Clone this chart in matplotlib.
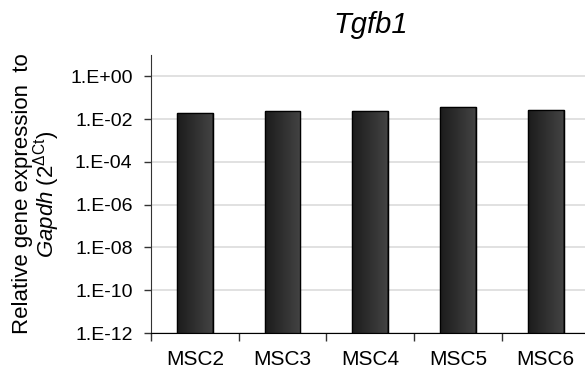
import numpy as np
import matplotlib
matplotlib.use("Agg")
from matplotlib import pyplot as plt
from matplotlib.colors import LinearSegmentedColormap

plt.rcParams["font.family"] = ["Liberation Sans", "DejaVu Sans"]
plt.rcParams["mathtext.fontset"] = "custom"
plt.rcParams["mathtext.rm"] = "Liberation Sans"
plt.rcParams["mathtext.it"] = "Liberation Sans:italic"

# data
samples = ["MSC2", "MSC3", "MSC4", "MSC5", "MSC6"]
expression = [0.020, 0.024, 0.024, 0.036, 0.028]
ytick_vals = [1e0, 1e-2, 1e-4, 1e-6, 1e-8, 1e-10, 1e-12]
ytick_labels = ["1.E+00", "1.E-02", "1.E-04", "1.E-06", "1.E-08", "1.E-10", "1.E-12"]

fig = plt.figure(figsize=(5.85, 3.71), dpi=100)
ax = fig.add_axes([0.258, 0.1024, 0.7496, 0.7493])

ax.set_yscale("log")
ax.set_ylim(1e-12, 1e1)
ax.set_xlim(0, len(samples))

centers = np.arange(len(samples)) + 0.5
bars = ax.bar(centers, expression, width=0.41, bottom=1e-12,
              color="#2e2e2e", edgecolor="black", linewidth=0.9, zorder=3)

# horizontal shading inside each bar
shade = LinearSegmentedColormap.from_list("shade", ["#1c1c1c", "#444444"])
grad = np.linspace(0, 1, 64).reshape(1, -1)
for b in bars:
    x0 = b.get_x()
    x1 = x0 + b.get_width()
    im = ax.imshow(grad, extent=[x0, x1, 1e-12, b.get_height()], cmap=shade,
                   aspect="auto", zorder=3.5, interpolation="bilinear")
    im.set_clip_path(b)
    edge = plt.Rectangle((x0, 1e-12), b.get_width(), b.get_height(),
                         fill=False, edgecolor="black", linewidth=0.9, zorder=4)
    ax.add_patch(edge)
ax.set_xlim(0, len(samples))
ax.set_ylim(1e-12, 1e1)

ax.set_yticks(ytick_vals)
ax.set_yticklabels(ytick_labels)
ax.minorticks_off()
ax.yaxis.grid(True, color="#dcdcdc", linewidth=1.2, zorder=0)
ax.set_axisbelow(True)

# category boundary ticks + centered labels
ax.set_xticks(np.arange(len(samples) + 1))
ax.set_xticklabels([])
ax.set_xticks(centers, minor=True)
ax.set_xticklabels(samples, minor=True)
ax.tick_params(axis="x", which="major", length=6, width=1, color="#333333", direction="out")
ax.tick_params(axis="x", which="minor", length=0, pad=12, labelsize=15)
ax.tick_params(axis="y", length=5, width=1, color="#333333", pad=8.2, labelsize=14)

for s in ["top", "right"]:
    ax.spines[s].set_visible(False)
ax.spines["left"].set_color("#333333")
ax.spines["bottom"].set_color("black")

ax.set_title("Tgfb1", fontsize=21, style="italic", pad=16)
ax.set_ylabel("Relative gene expression  to\n" + r"$\it{Gapdh}$ (2$^{\Delta \mathrm{Ct}}$)",
              fontsize=16, linespacing=0.9, labelpad=6)

fig.savefig("out.png", dpi=100)
